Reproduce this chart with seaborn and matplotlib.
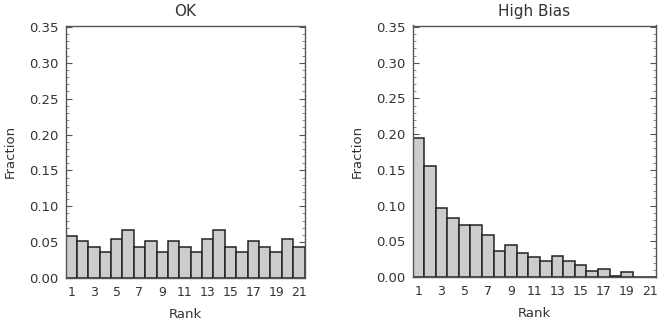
import matplotlib
matplotlib.use("Agg")
import matplotlib.pyplot as plt
import seaborn as sns
import numpy as np
import pandas as pd
from matplotlib.ticker import MultipleLocator

ranks = list(range(1, 22))
ok_fraction = [0.059, 0.051, 0.043, 0.036, 0.055, 0.067, 0.043, 0.051, 0.036, 0.051, 0.043,
               0.036, 0.055, 0.067, 0.043, 0.036, 0.051, 0.043, 0.036, 0.055, 0.043]
high_bias_fraction = [0.195, 0.155, 0.097, 0.082, 0.073, 0.073, 0.059, 0.037, 0.045, 0.033, 0.028,
                      0.022, 0.030, 0.022, 0.017, 0.009, 0.011, 0.002, 0.0075, 0.0, 0.0]
titles = ["OK", "High Bias"]
xtick_vals = list(range(1, 22, 2))

sns.set_theme(style="white")
plt.rcParams['font.family'] = ['DejaVu Sans']

text_color = "#333333"
fig = plt.figure(figsize=(6.58, 3.21), dpi=100)
ax1 = fig.add_axes([65.5/658, 1-278/321, 239/658, 252.5/321])
ax2 = fig.add_axes([412.5/658, 1-277/321, 243.5/658, 251.5/321])

for ax, vals, title in zip([ax1, ax2], [ok_fraction, high_bias_fraction], titles):
    df = pd.DataFrame({"Rank": ranks, "Fraction": vals})
    sns.barplot(data=df, x="Rank", y="Fraction", native_scale=True, width=1.0,
                color="#cccccc", edgecolor="#222222", linewidth=1.1, saturation=1,
                errorbar=None, ax=ax)
    ax.set_xlim(0.5, 21.5)
    ax.set_ylim(0, 0.352)
    ax.set_xticks(xtick_vals)
    ax.set_xticklabels([str(v) for v in xtick_vals])
    ax.yaxis.set_major_locator(MultipleLocator(0.05))
    ax.yaxis.set_minor_locator(MultipleLocator(0.01))
    ax.yaxis.set_major_formatter(matplotlib.ticker.FormatStrFormatter('%.2f'))
    ax.tick_params(axis='y', which='major', direction='in', length=4, width=0.8,
                   left=True, right=True, colors="#555555", labelcolor=text_color,
                   labelsize=9.5, pad=5)
    ax.tick_params(axis='y', which='minor', direction='in', length=2, width=0.6,
                   left=True, right=True, colors="#777777")
    ax.tick_params(axis='x', which='both', bottom=False, top=False, length=0,
                   labelcolor=text_color, labelsize=9, pad=6)
    for s in ax.spines.values():
        s.set_visible(True)
        s.set_color("#555555")
        s.set_linewidth(1.0)
    ax.set_title(title, fontsize=11, color=text_color, pad=7)
    ax.set_xlabel("Rank", fontsize=9.5, color=text_color, labelpad=6)
    ax.set_ylabel("Fraction", fontsize=9.5, color=text_color, labelpad=9)

fig.savefig("out.png", dpi=100)
